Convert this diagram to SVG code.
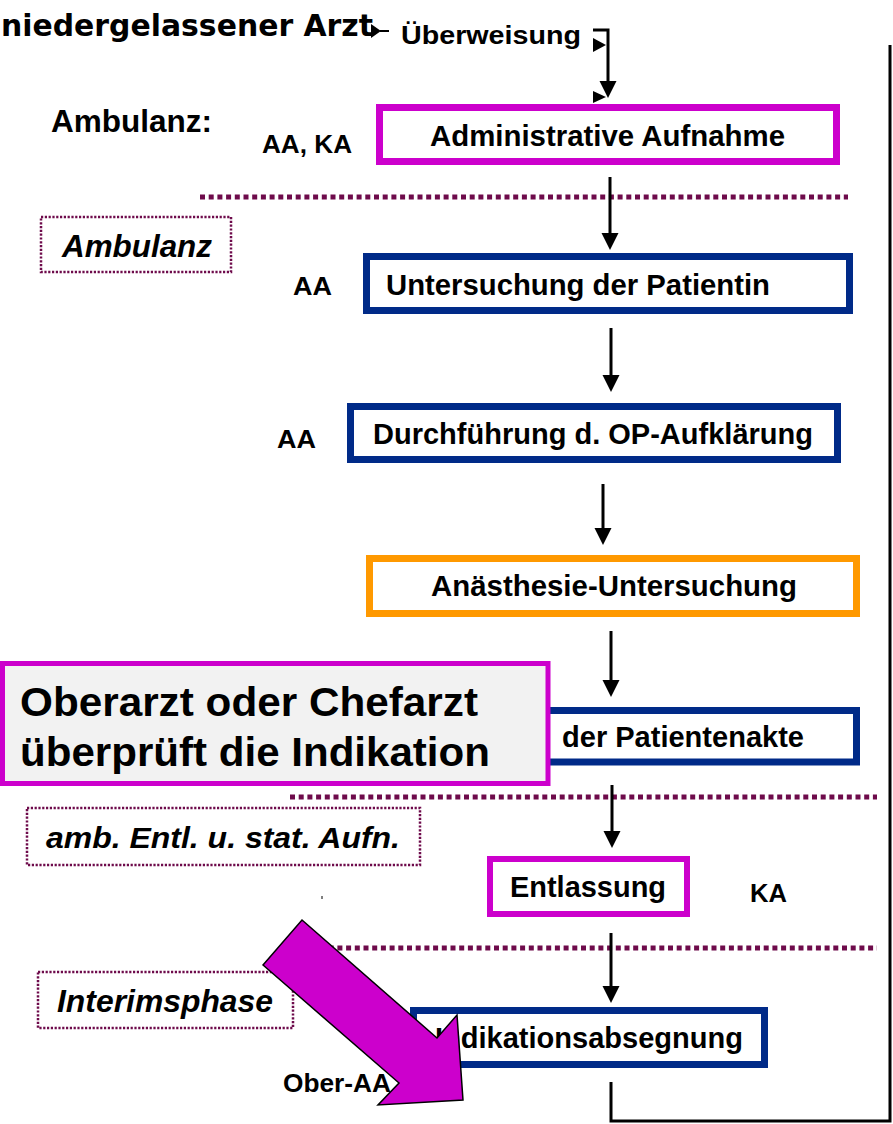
<svg xmlns="http://www.w3.org/2000/svg" width="893" height="1124" viewBox="0 0 893 1124">
<style>
text{font-family:"Liberation Sans",Arial,sans-serif;font-weight:bold;fill:#000}
.bt{font-size:29px}
.lab{font-size:25px}
.it{font-style:italic;font-size:31px}
.mag{fill:#fff;stroke:#cc00cc;stroke-width:7}
.navy{fill:#fff;stroke:#002a88;stroke-width:7}
.org{fill:#fff;stroke:#ff9900;stroke-width:7}
.dbox{fill:#fff;stroke:#6e0b4b;stroke-width:2.5;stroke-dasharray:2.2 1.6}
.dline{fill:none;stroke:#6e0b4b;stroke-width:5;stroke-dasharray:5 3.7}
.conn{fill:none;stroke:#000;stroke-width:3}
</style>
<defs>
<marker id="ah" markerUnits="userSpaceOnUse" markerWidth="18" markerHeight="18" refX="5" refY="8.5" orient="auto">
<path d="M0,0 L17,8.5 L0,17 z" fill="#000"/>
</marker>
</defs>
<rect width="893" height="1124" fill="#fff"/>

<g id="labels">
<text x="1" y="36" style="font-family:'DejaVu Sans',sans-serif;font-size:30px" textLength="372" lengthAdjust="spacingAndGlyphs">niedergelassener Arzt</text>
<text x="401" y="44" style="font-size:26px" textLength="180" lengthAdjust="spacingAndGlyphs">Überweisung</text>
<text x="51" y="132" style="font-size:31px" textLength="161" lengthAdjust="spacingAndGlyphs">Ambulanz:</text>
<text class="lab" x="262" y="153" textLength="90" lengthAdjust="spacingAndGlyphs">AA, KA</text>
<text class="lab" x="293" y="295" textLength="39" lengthAdjust="spacingAndGlyphs">AA</text>
<text class="lab" x="277" y="448" textLength="39" lengthAdjust="spacingAndGlyphs">AA</text>
<text class="lab" x="750" y="902" textLength="37" lengthAdjust="spacingAndGlyphs">KA</text>
<text x="283" y="1092" style="font-size:25px" textLength="108" lengthAdjust="spacingAndGlyphs">Ober-AA</text>
<line x1="322" y1="896" x2="322" y2="899" stroke="#000" stroke-width="1"/>
</g>

<g id="phase-ambulanz">
<rect class="dbox" x="41" y="217" width="190" height="55"/>
<text class="it" x="62" y="257" textLength="150" lengthAdjust="spacingAndGlyphs">Ambulanz</text>
</g>
<g id="phase-entl">
<rect class="dbox" x="27" y="808" width="393" height="57"/>
<text class="it" x="46" y="848" style="font-size:30px" textLength="354" lengthAdjust="spacingAndGlyphs">amb. Entl. u. stat. Aufn.</text>
</g>
<g id="phase-interim">
<rect class="dbox" x="38" y="972" width="255" height="56"/>
<text class="it" x="57" y="1012" textLength="216" lengthAdjust="spacingAndGlyphs">Interimsphase</text>
</g>

<g id="dividers">
<line class="dline" x1="200" y1="197" x2="848" y2="197"/>
<line class="dline" x1="290" y1="797" x2="877" y2="797"/>
<line class="dline" x1="320" y1="948" x2="877" y2="948"/>
</g>

<g id="connectors">
<polygon points="371,24 381,31 371,38" fill="#000"/>
<line x1="380" y1="31" x2="389" y2="31" stroke="#000" stroke-width="2"/>
<path class="conn" d="M593,30 H608 V86" marker-end="url(#ah)"/>
<polygon points="593,38 606,45 593,52" fill="#000"/>
<polygon points="593,91 606,97 593,103" fill="#000"/>
<line class="conn" x1="610" y1="177" x2="610" y2="238" marker-end="url(#ah)"/>
<line class="conn" x1="611" y1="328" x2="611" y2="380" marker-end="url(#ah)"/>
<line class="conn" x1="603" y1="484" x2="603" y2="533" marker-end="url(#ah)"/>
<line class="conn" x1="611" y1="631" x2="611" y2="685" marker-end="url(#ah)"/>
<line class="conn" x1="612" y1="785" x2="612" y2="836" marker-end="url(#ah)"/>
<line class="conn" x1="611" y1="933" x2="611" y2="991" marker-end="url(#ah)"/>
<path class="conn" d="M611,1082 V1121 H890 V45"/>
</g>

<g id="n-admin">
<rect class="mag" x="379.5" y="107.5" width="457" height="54"/>
<text class="bt" x="430" y="146" textLength="355" lengthAdjust="spacingAndGlyphs">Administrative Aufnahme</text>
</g>
<g id="n-untersuchung">
<rect class="navy" x="366.5" y="256.5" width="483" height="54"/>
<text class="bt" x="386" y="295" textLength="384" lengthAdjust="spacingAndGlyphs">Untersuchung der Patientin</text>
</g>
<g id="n-aufklaerung">
<rect class="navy" x="350.5" y="406.5" width="487" height="53"/>
<text class="bt" x="373" y="444" textLength="440" lengthAdjust="spacingAndGlyphs">Durchführung d. OP-Aufklärung</text>
</g>
<g id="n-anaesthesie">
<rect class="org" x="369.5" y="558.5" width="487" height="55"/>
<text class="bt" x="431" y="596" textLength="366" lengthAdjust="spacingAndGlyphs">Anästhesie-Untersuchung</text>
</g>
<g id="n-patientenakte">
<rect class="navy" x="360" y="710.5" width="496.5" height="51.5"/>
<text class="bt" x="562" y="747" textLength="242" lengthAdjust="spacingAndGlyphs">der Patientenakte</text>
</g>
<g id="n-entlassung">
<rect class="mag" x="490" y="859" width="197" height="55" style="stroke-width:6"/>
<text class="bt" x="510" y="897" textLength="156" lengthAdjust="spacingAndGlyphs">Entlassung</text>
</g>
<g id="n-indikation">
<rect class="navy" x="413.5" y="1010.5" width="351" height="54"/>
<text class="bt" x="435" y="1048" textLength="308" lengthAdjust="spacingAndGlyphs">Indikationsabsegnung</text>
</g>

<g id="n-overlay">
<rect x="2.5" y="663.5" width="545.5" height="120" fill="#f2f2f2" stroke="#cc00cc" stroke-width="5"/>
<text x="20" y="716" style="font-size:40px" textLength="458" lengthAdjust="spacingAndGlyphs">Oberarzt oder Chefarzt</text>
<text x="20" y="766" style="font-size:40px" textLength="470" lengthAdjust="spacingAndGlyphs">überprüft die Indikation</text>
</g>

<g id="n-bigarrow">
<polygon points="263,965 302,920 437,1038 457,1015 463,1100 378,1105 399,1083" fill="#cc00cc" stroke="#000" stroke-width="1.5" stroke-linejoin="miter"/>
</g>
</svg>
